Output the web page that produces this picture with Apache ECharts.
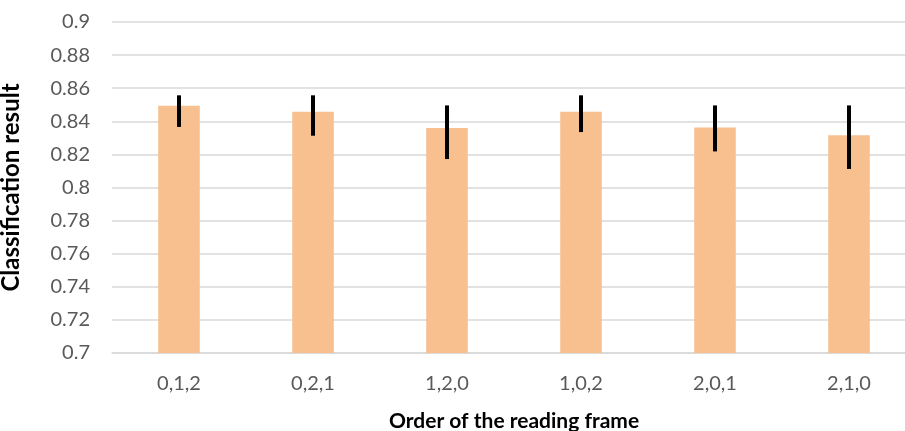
<!DOCTYPE html>
<html><head><meta charset="utf-8">
<script src="https://cdn.jsdelivr.net/npm/echarts@6/dist/echarts.min.js"></script>
<style>html,body{margin:0;padding:0;background:#fff}#c{width:905px;height:431px}</style>
</head><body><div id="c"></div>
<script>
const categories = ['0,1,2','0,2,1','1,2,0','1,0,2','2,0,1','2,1,0'];
const values = [0.8494, 0.8458, 0.8359, 0.8458, 0.8363, 0.8315];
const errLow = [0.8366, 0.8313, 0.8172, 0.8335, 0.8218, 0.8112];
const errHigh = [0.8557, 0.8557, 0.8496, 0.8557, 0.8496, 0.8496];
const yTicks = ['0.7','0.72','0.74','0.76','0.78','0.8','0.82','0.84','0.86','0.88','0.9'];

const font = 'Lato, "Open Sans", sans-serif';
const chart = echarts.init(document.getElementById('c'));
chart.setOption({
  animation: false,
  grid: {left: 112, top: 22, width: 804, height: 331, containLabel: false, outerBoundsMode: 'none'},
  xAxis: {
    type: 'category', data: categories,
    axisLine: {lineStyle: {color: '#d9d9d9', width: 1.5}},
    axisTick: {show: false},
    axisLabel: {color: '#595959', fontSize: 20, fontFamily: font, margin: 21},
    name: 'Order of the reading frame', nameLocation: 'middle', nameGap: 58,
    nameTextStyle: {color: '#000', fontSize: 21, fontWeight: 'bold', fontFamily: font}
  },
  yAxis: {
    type: 'value', min: 0.7, max: 0.9, interval: 0.02,
    axisLine: {show: false}, axisTick: {show: false},
    splitLine: {lineStyle: {color: '#d9d9d9', width: 1.5}},
    axisLabel: {color: '#595959', fontSize: 20, fontFamily: font, margin: 22,
      formatter: v => { const i = Math.round((v - 0.7) / 0.02); return yTicks[i] ?? ''; }},
    name: 'Classification result', nameLocation: 'middle', nameGap: 89, nameRotate: 90,
    nameTextStyle: {color: '#000', fontSize: 24, fontWeight: 'bold', fontFamily: font}
  },
  series: [
    {type: 'bar', data: values, barWidth: '31%', itemStyle: {color: '#f8bf8f'}},
    {type: 'custom', z: 5,
     data: categories.map((c, i) => [i, errLow[i], errHigh[i]]),
     renderItem: (params, api) => {
       const lo = api.coord([api.value(0), api.value(1)]);
       const hi = api.coord([api.value(0), api.value(2)]);
       return {type: 'line', shape: {x1: lo[0], y1: lo[1], x2: hi[0], y2: hi[1]},
               style: {stroke: '#000', lineWidth: 4}};
     }}
  ]
});
</script></body></html>
